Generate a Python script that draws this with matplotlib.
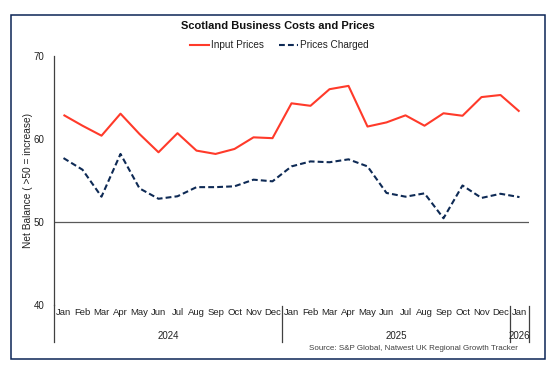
import numpy as np
import matplotlib
matplotlib.use("Agg")
import matplotlib.pyplot as plt
from matplotlib.lines import Line2D
from matplotlib.patches import Rectangle
import matplotlib.transforms as mtransforms

plt.rcParams['font.family'] = ['Liberation Sans', 'DejaVu Sans']

# chart data
months = ["Jan", "Feb", "Mar", "Apr", "May", "Jun", "Jul", "Aug", "Sep", "Oct", "Nov", "Dec",
          "Jan", "Feb", "Mar", "Apr", "May", "Jun", "Jul", "Aug", "Sep", "Oct", "Nov", "Dec",
          "Jan"]
years = ["2024", "2025", "2026"]
year_start = [0, 12, 24]
year_len = [12, 12, 1]

input_prices = [62.9, 61.6, 60.4, 63.05, 60.6, 58.4, 60.7, 58.6, 58.2, 58.8, 60.2, 60.1,
                64.3, 64.0, 66.0, 66.4, 61.5, 62.0, 62.85, 61.6, 63.1, 62.8, 65.05, 65.3,
                63.3]
prices_charged = [57.7, 56.3, 53.05, 58.2, 54.05, 52.8, 53.1, 54.2, 54.2, 54.3, 55.1, 54.9,
                  56.7, 57.3, 57.2, 57.55, 56.7, 53.5, 53.05, 53.45, 50.45, 54.4, 52.9, 53.4,
                  53.0]

red = '#FF3A2A'
navy = '#0E2A55'
grey = '#404040'

W, H = 557, 371
fig = plt.figure(figsize=(W / 100, H / 100), dpi=100)

# outer frame
fig.patches.append(Rectangle((11 / W, 1 - 359 / H), 534 / W, 344 / H,
                             transform=fig.transFigure, fill=False,
                             edgecolor='#0B2556', lw=1.1))

ax = fig.add_axes([54 / W, 1 - 305 / H, 475 / W, 249 / H])
x = np.arange(len(months))

ax.plot(x, input_prices, color=red, lw=1.5, solid_capstyle='butt')
ax.plot(x, prices_charged, color=navy, lw=1.5, dashes=(2.8, 1.5), dash_capstyle='butt')
ax.axhline(50, color='#595959', lw=0.9, zorder=1)

ax.set_xlim(-0.5, 24.5)
ax.set_ylim(40, 70)
ax.set_yticks([40, 50, 60, 70])
ax.tick_params(axis='y', length=0, pad=7, labelsize=7, labelcolor='#222222')
ax.set_xticks(x, months)
ax.tick_params(axis='x', length=0, pad=2.5, labelsize=6.8, labelcolor='#222222')

for s in ['top', 'right', 'bottom']:
    ax.spines[s].set_visible(False)
ax.spines['left'].set_color(grey)
ax.spines['left'].set_linewidth(0.9)

ax.set_ylabel("Net Balance ( >50 = increase)", fontsize=7.3, color='#222222')
ax.yaxis.set_label_coords(-0.044, 0.5)

# multi-level category axis: separators and year labels
trans = mtransforms.blended_transform_factory(ax.transData, ax.transAxes)
y_bot = (305 - 342) / 249
for sx in [-0.5, 11.5, 23.5, 24.5]:
    ax.plot([sx, sx], [0 if sx == -0.5 else -0.004, y_bot], color=grey, lw=0.9,
            transform=trans, clip_on=False)
for yr, st, n in zip(years, year_start, year_len):
    ax.text(st + (n - 1) / 2, (305 - 336) / 249, yr, transform=trans,
            ha='center', va='center', fontsize=7, color='#222222')

fig.text(278 / W, 1 - 26 / H, "Scotland Business Costs and Prices",
         ha='center', va='center', fontsize=8, fontweight='bold', color='#111111')

handles = [Line2D([], [], color=red, lw=1.5),
           Line2D([], [], color=navy, lw=1.5, dashes=(2.8, 1.5))]
fig.legend(handles, ["Input Prices", "Prices Charged"], ncol=2, loc='center',
           bbox_to_anchor=(279 / W, 1 - 45 / H), frameon=False, fontsize=7.2,
           handlelength=1.9, handletextpad=0.2, columnspacing=1.5,
           labelcolor='#222222')

fig.text(518 / W, 1 - 349 / H, "Source: S&P Global, Natwest UK Regional Growth Tracker",
         ha='right', va='center', fontsize=5.8, color='#404040')

fig.savefig("out.png", dpi=100)
